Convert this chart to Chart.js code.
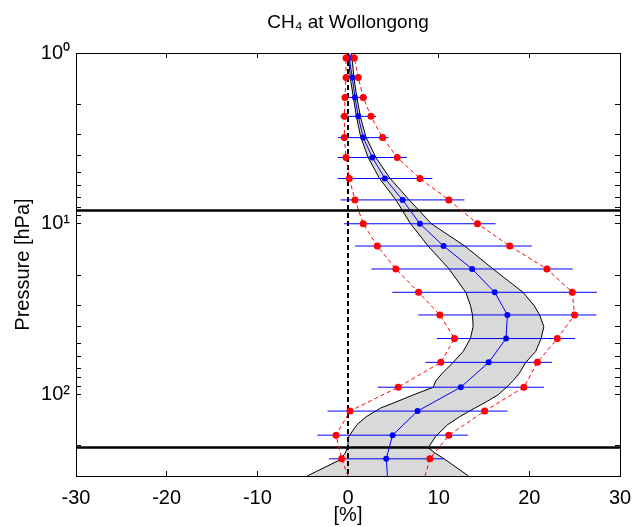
<!DOCTYPE html>
<html>
<head>
<meta charset="utf-8">
<script src="https://cdn.jsdelivr.net/npm/chart.js"></script>
<style>
    html, body { margin: 0; padding: 0; background: #fff; }
</style>
</head>
<body>
<canvas id="myChart" width="635" height="527"></canvas>
<script>
// Niveles de presion (hPa) de los puntos del perfil
const pressure = [1.07, 1.39, 1.82, 2.35, 3.13, 4.09, 5.43, 7.25, 10.0, 13.5, 18.4, 25.2, 34.2, 47.0, 64.8, 90.6, 125, 173, 238]
// Diferencia media (%) y desviacion (barras azules)
const meanDiff = [0.14, 0.47, 0.77, 1.13, 1.68, 2.68, 4.07, 6.02, 7.93, 10.54, 13.69, 16.18, 17.58, 17.43, 15.52, 12.44, 7.67, 4.92, 4.22]
const stdDiff = [0.4, 0.95, 1.33, 1.97, 2.78, 3.82, 5.23, 6.83, 8.35, 9.73, 11.1, 11.29, 9.82, 7.62, 6.97, 9.17, 9.93, 8.29, 6.33]
// Curvas rojas discontinuas
const lowerRed = [-0.22, -0.22, -0.33, -0.4, -0.4, -0.22, 0.14, 0.77, 1.68, 3.23, 5.28, 7.78, 10.13, 11.75, 10.24, 5.54, 0.22, -1.32, -0.7]
const upperRed = [0.7, 1.13, 1.68, 2.53, 3.82, 5.43, 7.93, 11.12, 14.28, 17.84, 21.94, 24.74, 24.99, 23.09, 20.89, 19.4, 15.08, 11.12, 9.03]
// Valores donde las curvas tocan el borde superior e inferior
const edgePressure = [1, 300]
const meanEdge = [0.1, 4.35]
const lowerRedEdge = [-0.15, 0.0]
const upperRedEdge = [0.6, 8.5]
// Banda gris
const bandPressure = [1, 1.4, 1.8, 2.4, 3.1, 4.1, 5.4, 7.25, 10, 13.5, 18.4, 25.2, 30, 34.2, 40, 47, 56, 64.8, 75, 83, 90.6, 100, 110, 120, 135, 150, 175, 205, 220, 240, 300]
const bandLeft = [0.03, 0.25, 0.58, 0.96, 1.4, 2.23, 3.45, 5.28, 6.9, 8.84, 11.15, 12.99, 13.5, 13.73, 13.8, 13.5, 12.7, 11.6, 10.4, 9.7, 9.4, 7.3, 5.4, 3.6, 2.0, 1.0, 0.1, -0.05, -0.3, -0.8, -4.5]
const bandRight = [0.39, 0.66, 0.96, 1.4, 1.98, 3.08, 4.62, 6.75, 9.2, 12.88, 16.0, 19.3, 20.5, 21.14, 21.6, 21.3, 20.7, 19.6, 18.9, 18.2, 17.5, 16.6, 15.3, 14.0, 12.3, 11.0, 9.7, 8.85, 9.6, 10.7, 13.3]
// Lineas horizontales negras
const limitPressure = [8.35, 204]
// Ejes
const xRange = [-30, 30]
const yRange = [1, 300]
const yMajorTicks = [1, 10, 100]
const yMajorLabels = ['10⁰', '10¹', '10²']

const font = { family: "'Liberation Sans', Arial, sans-serif", size: 20 }

const toPoints = (xs, ps) => xs.map((x, i) => ({ x: x, y: ps[i] }))

// ticks menores del eje logaritmico (1..9 por decada)
const yTicks = []
yMajorTicks.forEach(d => {
    for (let m = 1; m <= 9; m++) {
        if (m * d <= yRange[1]) yTicks.push(m * d)
    }
})

function yLabel(v) {
    const i = yMajorTicks.findIndex(t => Math.abs(t - v) < 1e-9)
    return i >= 0 ? yMajorLabels[i] : ''
}

const datasets = []

// Rojas (encima de todo)
datasets.push({
    data: toPoints([lowerRedEdge[0], ...lowerRed, lowerRedEdge[1]], [edgePressure[0], ...pressure, edgePressure[1]]),
    borderColor: '#ff0000', borderWidth: 1, borderDash: [4, 3],
    pointRadius: [0, ...pressure.map(() => 3.5), 0],
    pointBackgroundColor: '#ff0000', pointBorderWidth: 0,
})
datasets.push({
    data: toPoints([upperRedEdge[0], ...upperRed, upperRedEdge[1]], [edgePressure[0], ...pressure, edgePressure[1]]),
    borderColor: '#ff0000', borderWidth: 1, borderDash: [4, 3],
    pointRadius: [0, ...pressure.map(() => 3.5), 0],
    pointBackgroundColor: '#ff0000', pointBorderWidth: 0,
})

// Media azul
datasets.push({
    data: toPoints([meanEdge[0], ...meanDiff, meanEdge[1]], [edgePressure[0], ...pressure, edgePressure[1]]),
    borderColor: '#0000ff', borderWidth: 1,
    pointRadius: [0, ...pressure.map(() => 3), 0],
    pointBackgroundColor: '#0000ff', pointBorderWidth: 0,
})

// Barras de error azules
pressure.forEach((p, i) => {
    datasets.push({
        data: [{ x: meanDiff[i] - stdDiff[i], y: p }, { x: meanDiff[i] + stdDiff[i], y: p }],
        borderColor: '#0000ff', borderWidth: 1, pointRadius: 0,
    })
})

// Linea vertical en cero
datasets.push({
    data: [{ x: 0, y: yRange[0] }, { x: 0, y: yRange[1] }],
    borderColor: '#000', borderWidth: 2, borderDash: [5, 3], pointRadius: 0,
})

// Lineas horizontales gruesas
limitPressure.forEach(p => {
    datasets.push({
        data: [{ x: xRange[0], y: p }, { x: xRange[1], y: p }],
        borderColor: '#000', borderWidth: 2.5, pointRadius: 0,
    })
})

// Banda gris
datasets.push({
    data: toPoints(bandLeft, bandPressure),
    borderColor: '#000', borderWidth: 1, pointRadius: 0,
    fill: '+1', backgroundColor: '#d9d9d9',
})
datasets.push({
    data: toPoints(bandRight, bandPressure),
    borderColor: '#000', borderWidth: 1, pointRadius: 0,
})

const axisGrid = { drawOnChartArea: false, drawTicks: true, tickLength: -5, color: '#000', tickColor: '#000', tickWidth: 1 }
const axisBorder = { display: true, color: '#000', width: 1 }

// eslint-disable-next-line no-new, no-undef
new Chart(document.getElementById('myChart'), {
    type: 'line',
    data: { datasets: datasets },
    options: {
        responsive: false,
        animation: false,
        indexAxis: 'y',
        layout: { padding: { left: 0, right: 15, top: 0, bottom: 0 } },
        plugins: {
            legend: { display: false },
            tooltip: { enabled: false },
            filler: { drawTime: 'beforeDatasetsDraw' },
        },
        scales: {
            x: {
                type: 'linear', position: 'bottom', min: xRange[0], max: xRange[1],
                ticks: { stepSize: 10, color: '#000', font: font, padding: 15, maxRotation: 0, autoSkip: false },
                grid: axisGrid, border: axisBorder,
                title: { display: true, text: '[%]', color: '#000', font: font, padding: { top: 0, bottom: 0 } },
                afterFit: s => { s.height = 51; s.paddingLeft = 0; s.paddingRight = 0 },
            },
            // eje superior: lleva el titulo centrado sobre el area del grafico
            xTop: {
                type: 'linear', position: 'top', min: xRange[0], max: xRange[1],
                ticks: { stepSize: 10, display: false },
                grid: axisGrid, border: axisBorder,
                title: {
                    display: true, text: 'CH₄ at Wollongong', color: '#000',
                    font: { family: font.family, size: 19 }, padding: { top: 11, bottom: 0 },
                },
                afterFit: s => { s.height = 53; s.paddingLeft = 0; s.paddingRight = 0 },
            },
            y: {
                type: 'logarithmic', position: 'left', reverse: true, min: yRange[0], max: yRange[1],
                afterBuildTicks: s => { s.ticks = yTicks.map(v => ({ value: v })) },
                ticks: { color: '#000', font: font, padding: 11, autoSkip: false, callback: v => yLabel(v) },
                grid: axisGrid, border: axisBorder,
                title: { display: true, text: 'Pressure [hPa]', color: '#000', font: font, padding: { top: 11, bottom: 0 } },
                afterFit: s => { s.width = 76 },
            },
            yRight: {
                type: 'logarithmic', position: 'right', reverse: true, min: yRange[0], max: yRange[1],
                afterBuildTicks: s => { s.ticks = yTicks.map(v => ({ value: v })) },
                ticks: { display: false },
                grid: axisGrid, border: axisBorder,
                afterFit: s => { s.width = 0 },
            },
        },
    },
})
</script>
</body>
</html>
